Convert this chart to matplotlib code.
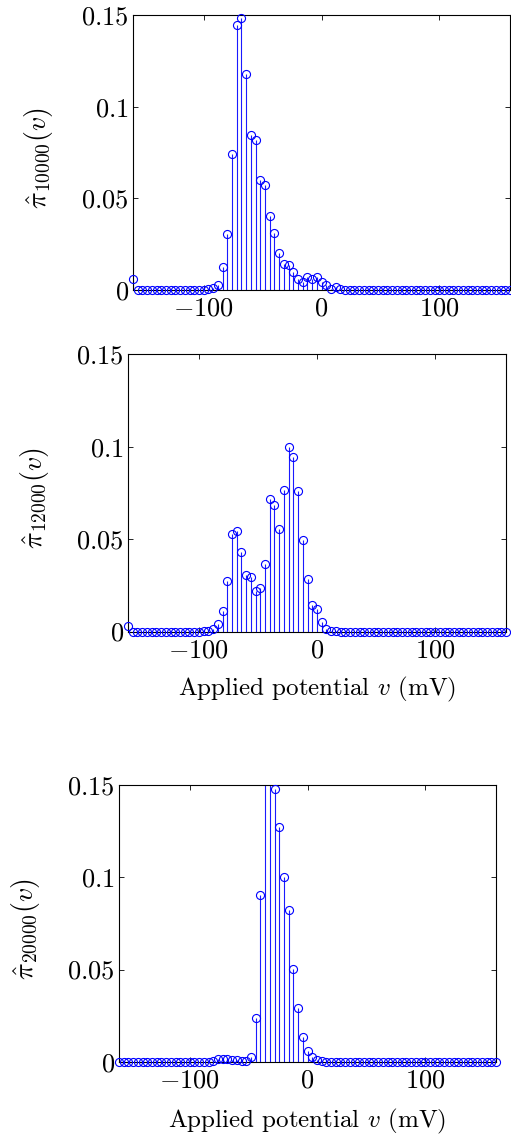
import numpy as np
import matplotlib
matplotlib.use("Agg")
import matplotlib.pyplot as plt

plt.rcParams['font.family'] = 'serif'
plt.rcParams['font.serif'] = ['cmr10', 'DejaVu Serif']
plt.rcParams['mathtext.fontset'] = 'cm'
plt.rcParams['axes.unicode_minus'] = False

# Applied potential grid (mV), -160 .. 160 in 4 mV steps
potential = list(range(-160, 161, 4))

pi_10000 = [0.0062] + [0.0]*15 + [
    0.0003, 0.0010, 0.0027, 0.0123, 0.0305, 0.0740, 0.1444, 0.1485, 0.1177, 0.0844,
    0.0817, 0.0600, 0.0572, 0.0405, 0.0312, 0.0202, 0.0142, 0.0134, 0.0100, 0.0058,
    0.0045, 0.0071, 0.0058, 0.0071, 0.0045, 0.0027, 0.0007, 0.0018, 0.0007, 0.0002,
] + [0.0]*35

pi_12000 = [0.0030] + [0.0]*15 + [
    0.0001, 0.0004, 0.0015, 0.0043, 0.0112, 0.0272, 0.0529, 0.0543, 0.0431, 0.0306,
    0.0293, 0.0217, 0.0237, 0.0366, 0.0716, 0.0687, 0.0556, 0.0764, 0.1000, 0.0944,
    0.0761, 0.0498, 0.0284, 0.0141, 0.0120, 0.0049, 0.0011, 0.0004, 0.0002,
] + [0.0]*36

pi_20000 = [0.0]*20 + [
    0.0005, 0.0012, 0.0015, 0.0013, 0.0010, 0.0007, 0.0005, 0.0004, 0.0025, 0.0238,
    0.0905, 0.1580, 0.1610, 0.1478, 0.1276, 0.1000, 0.0822, 0.0505, 0.0291, 0.0135,
    0.0060, 0.0025, 0.0007, 0.0002,
] + [0.0]*37

series = [pi_10000, pi_12000, pi_20000]
ylabels = [r'$\hat{\pi}_{10000}(v)$', r'$\hat{\pi}_{12000}(v)$', r'$\hat{\pi}_{20000}(v)$']
xlabels = [None, 'Applied potential $v$ (mV)', 'Applied potential $v$ (mV)']
xticks = [-100, 0, 100]
xticklabels = [r'$-100$', r'$0$', r'$100$']
yticks = [0, 0.05, 0.1, 0.15]
yticklabels = [r'$0$', r'$0.05$', r'$0.1$', r'$0.15$']

W, H = 511, 1136
fig = plt.figure(figsize=(W/100, H/100), dpi=100)

# axes boxes in pixels: left, right, top, bottom
boxes = [(133, 510, 15, 290), (128, 506, 354.5, 631.5), (119, 496, 785.3, 1061.7)]
ylab_x = [-0.207, -0.2045, -0.2035]
xlab_y = [None, -0.157, -0.163]

for k, (vals, (l, r, t, b)) in enumerate(zip(series, boxes)):
    ax = fig.add_axes([l/W, 1 - b/H, (r-l)/W, (b-t)/H])
    x = np.array(potential, dtype=float)
    y = np.array(vals, dtype=float)
    ax.set_xlim(-160, 160)
    ax.set_ylim(0, 0.15)
    nz = y > 0
    ax.vlines(x[nz], 0, y[nz], colors='#1a1aff', linewidth=0.8)
    vis = y <= 0.15
    ax.plot(x[vis], y[vis], linestyle='none', marker='o', markersize=5.8,
            markerfacecolor='none', markeredgecolor='#0000ff', markeredgewidth=0.8,
            clip_on=False, zorder=3)
    ax.set_xticks(xticks)
    ax.set_xticklabels(xticklabels)
    ax.set_yticks(yticks)
    ax.set_yticklabels(yticklabels)
    ax.tick_params(direction='in', length=3.5, width=0.6, top=True, right=True,
                   labelsize=19)
    ax.tick_params(axis='x', pad=5)
    ax.tick_params(axis='y', pad=3)
    for s in ax.spines.values():
        s.set_linewidth(0.8)
    ax.set_ylabel(ylabels[k], fontsize=20)
    ax.yaxis.set_label_coords(ylab_x[k], 0.48)
    if xlabels[k]:
        ax.set_xlabel(xlabels[k], fontsize=18)
        ax.xaxis.set_label_coords(0.5, xlab_y[k])

fig.savefig('out.png', dpi=100)
